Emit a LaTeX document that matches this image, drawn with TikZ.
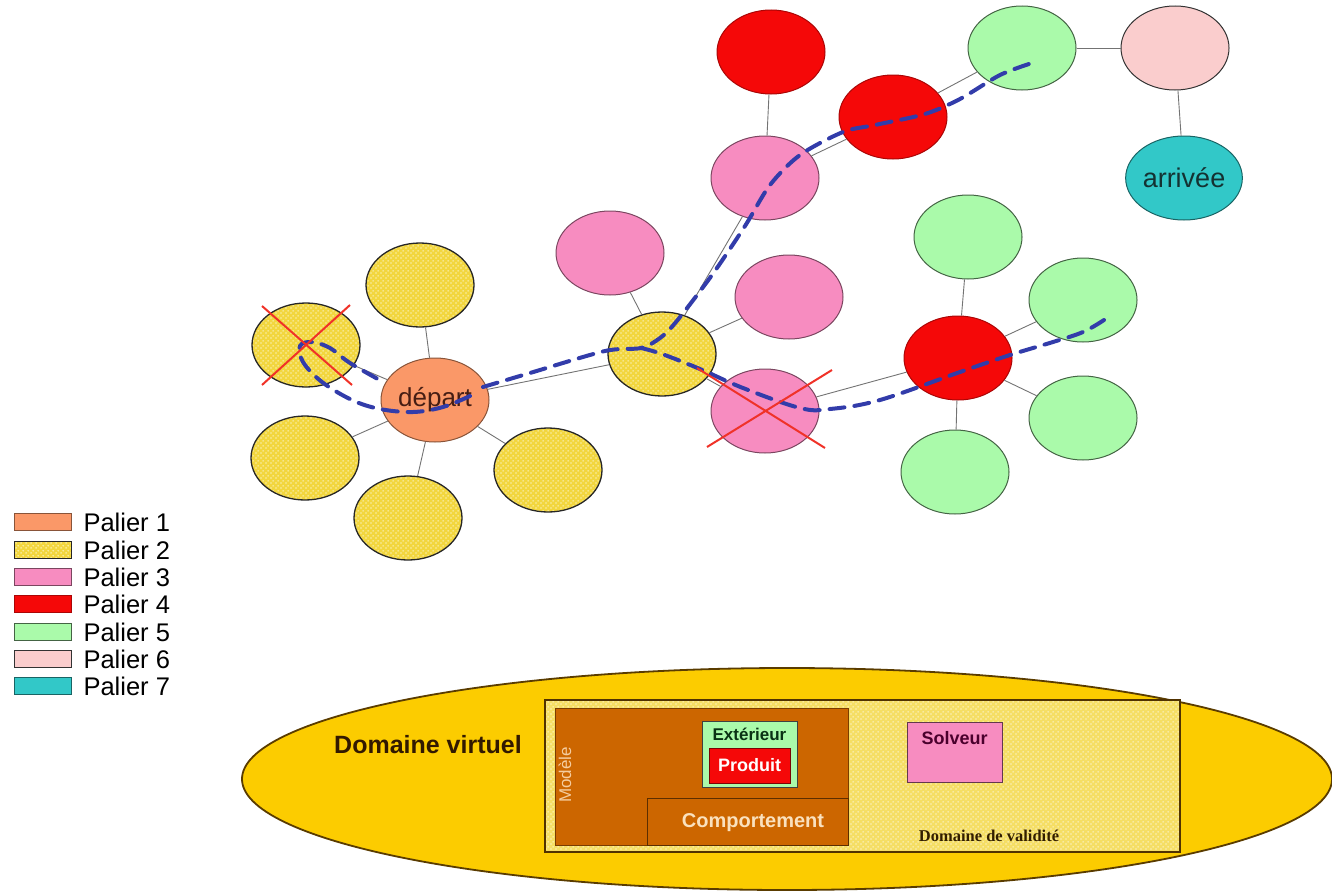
\documentclass[tikz,border=0pt]{standalone}
\usepackage{fontspec}
\setmainfont{Liberation Sans}
\newfontfamily\validfont{Liberation Serif}
\usetikzlibrary{patterns, positioning, shapes.geometric}
\definecolor{colP1}{RGB}{250,152,104}
\definecolor{colP2}{RGB}{242,214,62}
\definecolor{colP3}{RGB}{247,140,192}
\definecolor{colP4}{RGB}{245,8,8}
\definecolor{colP5}{RGB}{170,250,170}
\definecolor{colP6}{RGB}{250,205,205}
\definecolor{colP7}{RGB}{50,200,200}
\definecolor{chemincol}{RGB}{50,60,170}
\definecolor{croixcol}{RGB}{240,50,40}
\definecolor{virtuel}{RGB}{252,204,0}
\definecolor{modele}{RGB}{204,102,0}
\definecolor{validite}{RGB}{245,222,100}
% checker dots of the yellow fills
\pgfdeclarepatternformonly{damier}{\pgfpointorigin}{\pgfpoint{5pt}{5pt}}{\pgfpoint{5pt}{5pt}}{%
    \pgfpathcircle{\pgfpoint{1.25pt}{1.25pt}}{1.05pt}%
    \pgfpathcircle{\pgfpoint{3.75pt}{3.75pt}}{1.05pt}%
    \pgfusepath{fill}}
\tikzset{
    etat/.style={ellipse, minimum width=108pt, minimum height=84pt, inner sep=0pt, line width=1pt},
    palier1/.style={etat, fill=colP1, draw=colP1!55!black},
    palier2/.style={etat, preaction={fill=colP2}, pattern=damier, pattern color=white!55!colP2, draw=black!85, line width=1.3pt},
    palier3/.style={etat, fill=colP3, draw=colP3!50!black},
    palier4/.style={etat, fill=colP4, draw=colP4!70!black},
    palier5/.style={etat, fill=colP5, draw=colP5!40!black},
    palier6/.style={etat, fill=colP6, draw=black!80},
    palier7/.style={etat, fill=colP7, draw=colP7!50!black},
    lien/.style={draw=black!55, line width=0.9pt},
    chemin/.style={draw=chemincol, line width=4pt, dash pattern=on 15pt off 10pt, line cap=round},
    croix/.style={draw=croixcol, line width=2pt},
    legende/.style={rectangle, minimum width=57pt, minimum height=17pt},
    boite/.style={rectangle, inner sep=0pt, line width=1pt}
}
\begin{document}
\begin{tikzpicture}[x=1pt, y=-1pt]
    \useasboundingbox (0,0) rectangle (1332,894);
    % Palier 1 and 2
    \node[palier1, font=\fontsize{26}{28}\selectfont, text={rgb,255:red,70;green,30;blue,20}] (depart) at (435,400) {départ};
    \node[palier2] (ytop) at (420,285) {};
    \node[palier2] (ycross) at (306,345) {};
    \node[palier2] (yleft) at (305,458) {};
    \node[palier2] (ybot) at (408,518) {};
    \node[palier2] (yright) at (548,470) {};
    \node[palier2] (ymid) at (662,354) {};
    % Palier 3
    \node[palier3] (ptl) at (610,253) {};
    \node[palier3] (pup) at (765,178) {};
    \node[palier3] (pright) at (789,297) {};
    \node[palier3] (pcross) at (765,411) {};
    % Palier 4
    \node[palier4] (rtop) at (771,52) {};
    \node[palier4] (rmid) at (893,117) {};
    \node[palier4] (rright) at (958,358) {};
    % Palier 5
    \node[palier5] (gtop) at (1022,48) {};
    \node[palier5] (gup) at (968,237) {};
    \node[palier5] (gru) at (1083,300) {};
    \node[palier5] (grl) at (1083,418) {};
    \node[palier5] (gbot) at (955,472) {};
    % Palier 6 and 7
    \node[palier6] (psix) at (1175,48) {};
    \node[palier7, font=\fontsize{27}{29}\selectfont, text={rgb,255:red,20;green,50;blue,50}] (arrivee) at (1184,178) {arrivée};
    % Links
    \foreach \a/\b in {depart/ytop, depart/ycross, depart/yleft, depart/ybot, depart/yright, depart/ymid,
        ymid/ptl, ymid/pup, ymid/pright, ymid/pcross, pup/rtop, pup/rmid, rmid/gtop, gtop/psix,
        psix/arrivee, pcross/rright, rright/gup, rright/gru, rright/grl, rright/gbot}
        \draw[lien] (\a) -- (\b);
    % Route
    \draw[chemin] plot[smooth, tension=0.6] coordinates {(470,396) (443,407) (413,412) (380,409) (352,400) (322,382) (303,362) (300,346) (312,342) (330,348) (350,363) (385,383)};
    \draw[chemin] plot[smooth, tension=0.5] coordinates {(483,387) (530,373) (605,351) (641,348) (660,338) (676,322) (712,275) (745,226) (770,185) (800,155) (843,132) (875,125) (925,114) (960,99) (1000,75) (1032,63)};
    \draw[chemin] plot[smooth, tension=0.6] coordinates {(641,348) (662,354) (700,369) (743,388) (800,408) (830,409) (880,400) (960,372) (1010,355) (1053,342) (1083,332) (1104,320)};
    % Crossed out
    \draw[croix] (262,306) -- (352,385);
    \draw[croix] (350,305) -- (262,385);
    \draw[croix] (697,368) -- (825,448);
    \draw[croix] (832,370) -- (707,447);
    % Legend
    \foreach \i/\y in {1/522, 2/550, 3/577, 4/604, 5/632, 6/659, 7/686} {
        \node[palier\i, legende] (leg\i) at (43,\y) {};
        \node[anchor=west, font=\fontsize{25.5}{27}\selectfont] at ([xshift=8pt]leg\i.east) {Palier \i};
    }
    % Domaine virtuel
    \draw[fill=virtuel, draw={rgb,255:red,90;green,60;blue,0}, line width=1.8pt] (787,779) ellipse (545pt and 111pt);
    \node[font=\bfseries\fontsize{25}{28}\selectfont, text={rgb,255:red,50;green,25;blue,0}] (virt) at (428,745) {Domaine virtuel};
    \draw[preaction={fill=validite}, pattern=damier, pattern color=white!55!validite, draw={rgb,255:red,80;green,50;blue,0}, line width=1.6pt] (545,700) rectangle (1180,852);
    \node[font=\validfont\bfseries\fontsize{16.5}{18}\selectfont, text={rgb,255:red,50;green,30;blue,0}] (valid) at (989,836) {Domaine de validité};
    \draw[fill=modele, draw=modele!60!black, line width=1pt] (555,708) rectangle (848,845);
    \node[rotate=90, font=\fontsize{17}{19}\selectfont, text={rgb,255:red,245;green,205;blue,160}] (modele) at (565,775) {Modèle};
    \node[boite, fill=modele, draw=modele!45!black, minimum width=201pt, minimum height=47pt] (comp) at (747.5,821.5) {};
    \node[font=\bfseries\fontsize{20}{22}\selectfont, text={rgb,255:red,250;green,225;blue,190}] at (753,823) {Comportement};
    \node[boite, fill=colP5, draw=black!75, minimum width=95pt, minimum height=66pt] (ext) at (749.5,754) {};
    \node[below=4pt of ext.north, font=\bfseries\fontsize{17}{19}\selectfont, text={rgb,255:red,10;green,50;blue,20}] {Extérieur};
    \node[boite, fill=colP4, draw=colP4!50!black, minimum width=81pt, minimum height=35pt, font=\bfseries\fontsize{18}{20}\selectfont, text=white] (produit) at (749.5,765.5) {Produit};
    \node[boite, fill=colP3, draw=colP3!40!black, minimum width=95pt, minimum height=60pt] (solveur) at (954.5,752) {};
    \node[below=6pt of solveur.north, font=\bfseries\fontsize{18}{20}\selectfont, text={rgb,255:red,75;green,0;blue,45}] {Solveur};
\end{tikzpicture}
\end{document}
